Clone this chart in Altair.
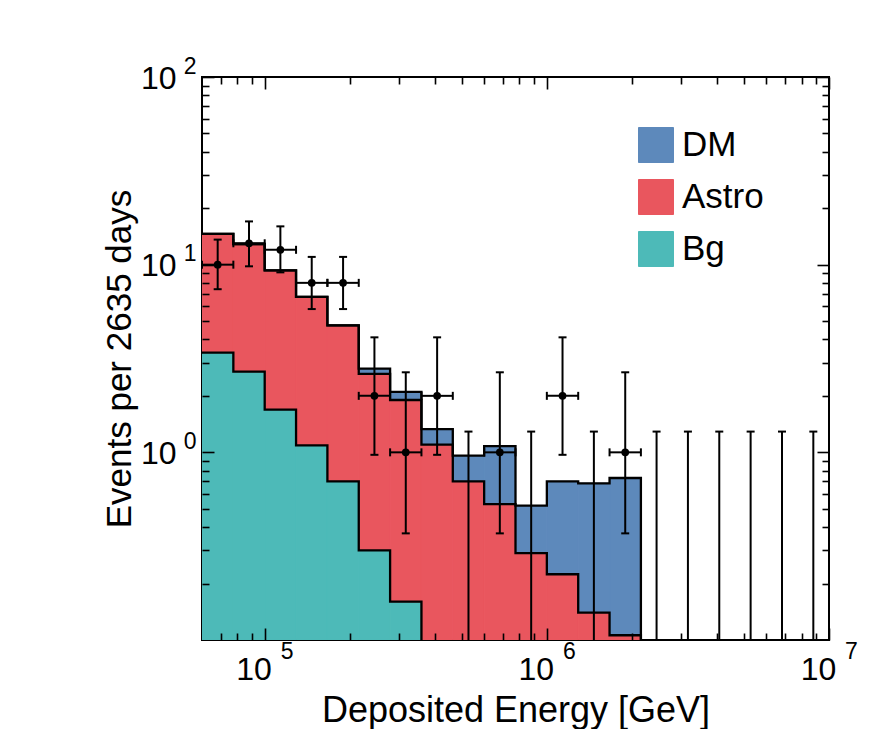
import altair as alt
import numpy as np
import pandas as pd

# ---------------- data ----------------
E_MIN, E_MAX, N_BINS = 6e4, 1e7, 20          # log-uniform energy bins [GeV]
Y_MIN, Y_MAX = 0.1, 100.0                    # y-axis range

# stacked components per bin (bottom -> top)
bg = [3.40, 2.69, 1.69, 1.09, 0.70, 0.30, 0.16, 0, 0, 0,
      0, 0, 0, 0, 0, 0, 0, 0, 0, 0]
astro = [11.2, 10.2, 7.64, 5.64, 4.05, 2.32, 1.74, 1.10, 0.70, 0.53,
         0.29, 0.224, 0.14, 0.106, 0, 0, 0, 0, 0, 0]
dm = [0, 0, 0, 0, 0, 0.17, 0.20, 0.23, 0.26, 0.55,
      0.23, 0.476, 0.544, 0.624, 0, 0, 0, 0, 0, 0]

# observed events with error band
observed = [10, 13, 12, 8, 8, 2, 1, 2, 0, 1,
            0, 2, 0, 1, 0, 0, 0, 0, 0, 0]
err_low = [7.4, 9.8, 9.1, 5.8, 5.8, 0.97, 0.37, 0.97, 0, 0.37,
           0, 0.97, 0, 0.37, 0, 0, 0, 0, 0, 0]
err_high = [13.6, 17.0, 16.0, 11.0, 11.0, 4.1, 2.67, 4.1, 1.29, 2.67,
            1.29, 4.1, 1.29, 2.67, 1.29, 1.29, 1.29, 1.29, 1.29, 1.29]

series_names = ["DM", "Astro", "Bg"]
series_colors = ["#5d89bb", "#e9565e", "#4dbab8"]

x_major = [1e5, 1e6, 1e7]
x_minor = [7e4, 8e4, 9e4,
           2e5, 3e5, 4e5, 5e5, 6e5, 7e5, 8e5, 9e5,
           2e6, 3e6, 4e6, 5e6, 6e6, 7e6, 8e6, 9e6]
y_major = [1.0, 10.0, 100.0]
y_minor = [0.2, 0.3, 0.4, 0.5, 0.6, 0.7, 0.8, 0.9,
           2, 3, 4, 5, 6, 7, 8, 9,
           20, 30, 40, 50, 60, 70, 80, 90]
tick_base = "10"
x_exponents = ["5", "6", "7"]
y_exponents = ["0", "1", "2"]

x_title = "Deposited Energy [GeV]"
y_title = "Events per 2635 days"
FONT = "Liberation Sans"

# ---------------- tables ----------------
edges = np.geomspace(E_MIN, E_MAX, N_BINS + 1)
centers = np.sqrt(edges[:-1] * edges[1:])

layers_bottom_up = [("Bg", bg), ("Astro", astro), ("DM", dm)]

rect_rows, step_rows = [], []
cum = np.zeros(N_BINS)
for name, vals in layers_bottom_up:
    vals = np.asarray(vals, dtype=float)
    for k in range(N_BINS):
        lo, hi = cum[k], cum[k] + vals[k]
        if vals[k] > 0 and hi > Y_MIN:
            rect_rows.append(dict(series=name, x=edges[k], x2=edges[k + 1],
                                  y=max(lo, Y_MIN), y2=hi))
    cum = cum + vals
    top = cum.copy()
    last = int(np.max(np.nonzero(top > Y_MIN)[0]))
    i = 0
    for k in range(last + 1):
        step_rows.append(dict(series=name, i=i, x=edges[k], y=top[k])); i += 1
    step_rows.append(dict(series=name, i=i, x=edges[last + 1], y=top[last])); i += 1
    step_rows.append(dict(series=name, i=i, x=edges[last + 1], y=Y_MIN))

rect_df = pd.DataFrame(rect_rows)
step_df = pd.DataFrame(step_rows)

err_df = pd.DataFrame(dict(x=centers,
                           lo=np.maximum(np.asarray(err_low, float), Y_MIN),
                           hi=np.asarray(err_high, float)))
obs = np.asarray(observed, float)
nz = obs > 0
pts_df = pd.DataFrame(dict(x=centers[nz], y=obs[nz],
                           left=edges[:-1][nz], right=edges[1:][nz]))
caph_df = pd.DataFrame(dict(
    x=np.concatenate([centers, centers[nz]]),
    y=np.concatenate([np.asarray(err_high, float), np.asarray(err_low, float)[nz]])))
capv_df = pd.DataFrame(dict(
    x=np.concatenate([edges[:-1][nz], edges[1:][nz]]),
    y=np.concatenate([obs[nz], obs[nz]])))


def label_expr(values, labels):
    s = "''"
    for v, l in reversed(list(zip(values, labels))):
        s = f"(abs(datum.value - {v}) < {v * 1e-6}) ? '{l}' : {s}"
    return s


xs = alt.Scale(type="log", domain=[E_MIN, E_MAX], nice=False)
ys = alt.Scale(type="log", domain=[Y_MIN, Y_MAX], nice=False)
cscale = alt.Scale(domain=series_names, range=series_colors)

common = dict(domain=False, grid=False, tickColor="black", tickWidth=1.6,
              labelColor="black", labelFont=FONT, zindex=1, labelFlush=False)

ax_x_major_b = alt.Axis(orient="bottom", values=x_major, labelExpr=f"'{tick_base}'",
                        offset=-12, tickSize=12, labelFontSize=32, labelPadding=14,
                        labelOffset=-11, titleFont=FONT, titleFontSize=36,
                        titleFontWeight="normal", titleColor="black", titlePadding=8,
                        **common)
ax_x_exp_b = alt.Axis(orient="bottom", values=x_major,
                      labelExpr=label_expr(x_major, x_exponents),
                      ticks=False, tickSize=0, offset=0, labelFontSize=23,
                      labelPadding=0, labelOffset=22, **common)
ax_x_minor_b = alt.Axis(orient="bottom", values=x_minor, labels=False,
                        offset=-7, tickSize=7, **common)
ax_x_major_t = alt.Axis(orient="top", values=x_major, labels=False,
                        offset=-12, tickSize=12, **common)
ax_x_minor_t = alt.Axis(orient="top", values=x_minor, labels=False,
                        offset=-7, tickSize=7, **common)

ax_y_major_l = alt.Axis(orient="left", values=y_major, labelExpr=f"'{tick_base}'",
                        offset=-12, tickSize=12, labelFontSize=32, labelPadding=26,
                        labelOffset=1,
                        titleFont=FONT, titleFontSize=35, titleFontWeight="normal",
                        titleColor="black", titlePadding=3, **common)
ax_y_exp_l = alt.Axis(orient="left", values=y_major,
                      labelExpr=label_expr(y_major, y_exponents),
                      ticks=False, tickSize=0, offset=0, labelFontSize=23,
                      labelPadding=6, labelBaseline="alphabetic", labelOffset=-4,
                      **common)
ax_y_minor_l = alt.Axis(orient="left", values=y_minor, labels=False,
                        offset=-7, tickSize=7, **common)
ax_y_major_r = alt.Axis(orient="right", values=y_major, labels=False,
                        offset=-12, tickSize=12, **common)
ax_y_minor_r = alt.Axis(orient="right", values=y_minor, labels=False,
                        offset=-7, tickSize=7, **common)

legend = alt.Legend(orient="none", legendX=436, legendY=50, title=None,
                    symbolType="square", symbolSize=1225, symbolStrokeColor="#8a8a8a",
                    symbolStrokeWidth=1, symbolOpacity=1, labelFontSize=35,
                    labelFont=FONT, labelColor="black", labelOffset=8,
                    rowPadding=12, padding=0, labelLimit=300)

rects = alt.Chart(rect_df).mark_rect(clip=True, strokeWidth=1).encode(
    x=alt.X("x:Q", scale=xs, axis=ax_x_major_b, title=x_title),
    x2="x2:Q",
    y=alt.Y("y:Q", scale=ys, axis=ax_y_major_l, title=y_title),
    y2="y2:Q",
    color=alt.Color("series:N", scale=cscale, legend=legend),
    stroke=alt.Stroke("series:N", scale=cscale, legend=None),
)

steps = alt.Chart(step_df).mark_line(interpolate="step-after", color="black",
                                     strokeWidth=2.3, clip=True).encode(
    x=alt.X("x:Q", scale=xs, axis=ax_x_exp_b, title=None),
    y=alt.Y("y:Q", scale=ys, axis=ax_y_exp_l, title=None),
    detail="series:N",
    order="i:Q",
)

vbars = alt.Chart(err_df).mark_rule(color="black", strokeWidth=2, clip=True).encode(
    x=alt.X("x:Q", scale=xs, axis=ax_x_minor_b, title=None),
    y=alt.Y("lo:Q", scale=ys, axis=ax_y_minor_l, title=None),
    y2="hi:Q",
)

hbars = alt.Chart(pts_df).mark_rule(color="black", strokeWidth=2, clip=True).encode(
    x=alt.X("left:Q", scale=xs, axis=ax_x_major_t, title=None),
    x2="right:Q",
    y=alt.Y("y:Q", scale=ys, axis=ax_y_major_r, title=None),
)

caps_h = alt.Chart(caph_df).mark_tick(orient="horizontal", size=8, thickness=2,
                                      color="black", opacity=1, clip=True).encode(
    x=alt.X("x:Q", scale=xs, axis=ax_x_minor_t, title=None),
    y=alt.Y("y:Q", scale=ys, axis=ax_y_minor_r, title=None),
)

caps_v = alt.Chart(capv_df).mark_tick(orient="vertical", size=8, thickness=2,
                                      color="black", opacity=1, clip=True).encode(
    x=alt.X("x:Q", scale=xs, axis=None),
    y=alt.Y("y:Q", scale=ys, axis=None),
)

points = alt.Chart(pts_df).mark_circle(size=60, color="black", opacity=1).encode(
    x=alt.X("x:Q", scale=xs, axis=None),
    y=alt.Y("y:Q", scale=ys, axis=None),
)

chart = alt.layer(rects, steps, vbars, hbars, caps_h, caps_v, points).resolve_axis(
    x="independent", y="independent"
).properties(
    width=627, height=563,
    padding={"left": 194, "top": 69, "right": 45, "bottom": 89},
    autosize=alt.AutoSizeParams(type="none"),
).configure(font=FONT, background="white").configure_view(
    stroke="black", strokeWidth=2, fill="white"
)

chart.save("out.html", embed_options={"renderer": "svg", "actions": False})
